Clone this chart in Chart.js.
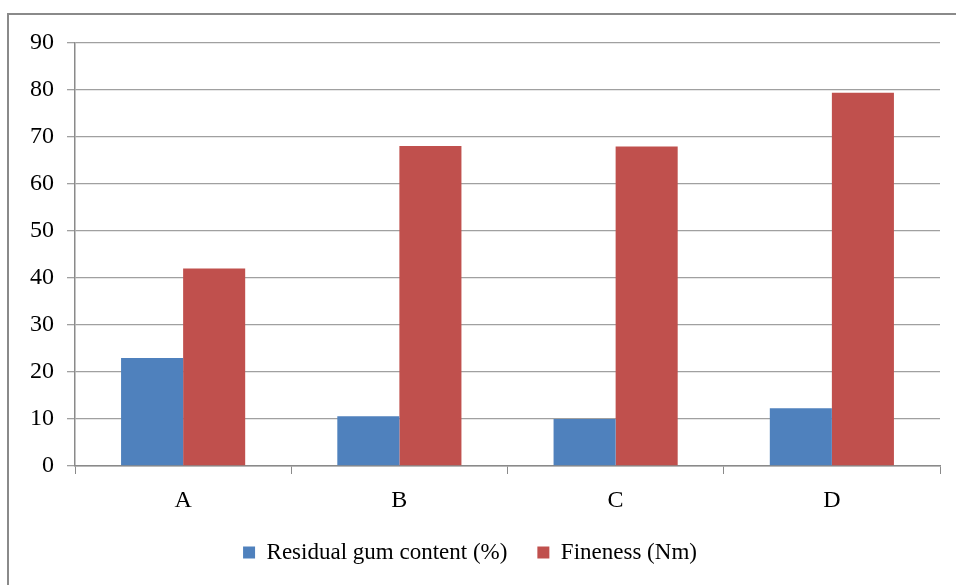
<!DOCTYPE html>
<html>
<head>
<meta charset="utf-8">
<script src="https://cdn.jsdelivr.net/npm/chart.js@4"></script>
<style>
  html, body { margin: 0; padding: 0; background: #fff; }
  #wrap { position: relative; width: 956px; height: 585px; overflow: hidden; }
  #frame { position: absolute; left: 7px; top: 13px; width: 1000px; height: 700px;
           border-left: 2px solid #8a8a8a; border-top: 2px solid #8a8a8a; }
  canvas { position: absolute; left: 0; top: 0; }
</style>
</head>
<body>
<div id="wrap">
  <div id="frame"></div>
  <canvas id="gumChart" width="956" height="585"></canvas>
</div>
<script>
const categories = ['A', 'B', 'C', 'D'];
const residualGum = [23, 10.6, 10, 12.3];
const fineness = [42, 68.1, 68, 79.4];
const yTicks = [0, 10, 20, 30, 40, 50, 60, 70, 80, 90];

const family = "'Liberation Serif', 'Times New Roman', serif";
const tickFont = { family, size: 24 };
const legendFont = { family, size: 23 };

const ctx = document.getElementById('gumChart').getContext('2d');
new Chart(ctx, {
  type: 'bar',
  data: {
    labels: categories,
    datasets: [
      { label: 'Residual gum content (%)', data: residualGum, backgroundColor: '#4F81BD' },
      { label: 'Fineness (Nm)', data: fineness, backgroundColor: '#C0504D' }
    ]
  },
  options: {
    responsive: false,
    animation: false,
    layout: { padding: { top: 43, right: 16, bottom: 11, left: 0 } },
    datasets: { bar: { categoryPercentage: 0.574, barPercentage: 1 } },
    plugins: {
      legend: {
        position: 'bottom',
        labels: { font: legendFont, color: '#000', boxWidth: 12, boxHeight: 12, padding: 30 }
      },
      tooltip: { enabled: false }
    },
    scales: {
      x: {
        offset: true,
        grid: { offset: true, drawOnChartArea: false, drawTicks: true, tickLength: 8, color: '#8a8a8a' },
        border: { color: '#8a8a8a', width: 1.5 },
        ticks: { font: tickFont, color: '#000', padding: 12 },
        afterFit: s => { s.height = 45; }
      },
      y: {
        min: 0, max: 90,
        afterBuildTicks: s => { s.ticks = yTicks.map(v => ({ value: v })); },
        grid: { color: '#a0a0a0', lineWidth: 1.3, tickLength: 8 },
        border: { color: '#8a8a8a', width: 1.5 },
        ticks: { font: tickFont, color: '#000', padding: 13 },
        afterFit: s => { s.width = 75; }
      }
    }
  }
});
</script>
</body>
</html>
